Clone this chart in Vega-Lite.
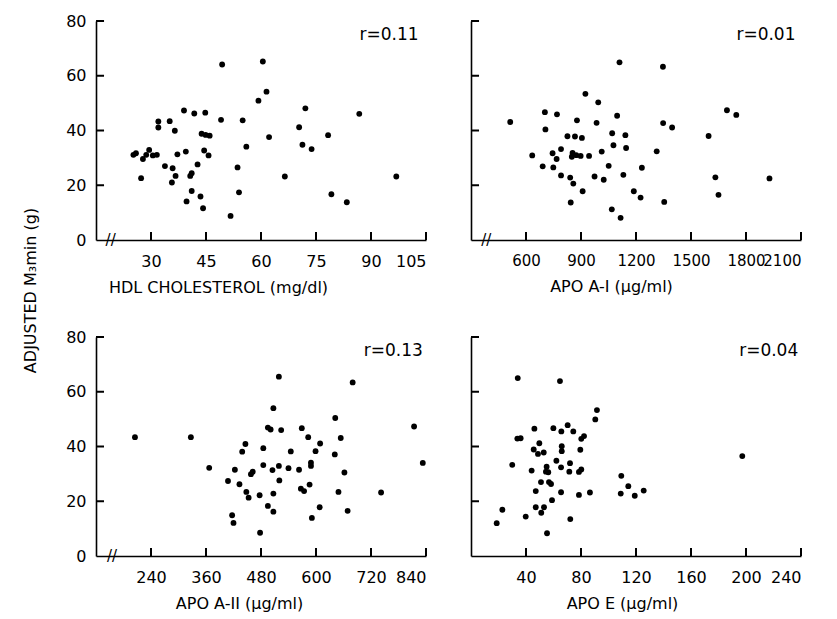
{
  "$schema": "https://vega.github.io/schema/vega-lite/v6.json",
  "padding": {"left": 22, "top": 13, "right": 5, "bottom": 5},
  "background": "white",
  "bounds": "flush",
  "spacing": {"row": 97, "column": 45},
  "columns": 2,
  "config": {
    "view": {"stroke": null},
    "font": "DejaVu Sans",
    "axis": {
      "grid": false,
      "domainColor": "black", "domainWidth": 1.6,
      "ticks": false, "tickSize": 0,
      "labelFont": "DejaVu Sans", "labelFontSize": 16, "labelColor": "black", "labelOverlap": false,
      "titleFont": "DejaVu Sans", "titleFontSize": 16, "titleFontWeight": "normal", "titleColor": "black",
      "format": "d"
    },
    "axisX": {"labelPadding": 13},
    "axisY": {"labelPadding": 10},
    "point": {"filled": true, "color": "black", "size": 34, "opacity": 1},
    "tick": {"color": "black", "opacity": 1, "thickness": 2}
  },
  "datasets": {
    "one": [{}],
    "yt": [{"t":20},{"t":40},{"t":60},{"t":80}],
    "hdl_xt": [{"t":30},{"t":45},{"t":60},{"t":75},{"t":90},{"t":105}],
    "a1_xt": [{"t":600},{"t":900},{"t":1200},{"t":1500},{"t":1800},{"t":2100}],
    "a2_xt": [{"t":240},{"t":360},{"t":480},{"t":600},{"t":720},{"t":840}],
    "e_xt": [{"t":40},{"t":80},{"t":120},{"t":160},{"t":200},{"t":240}],
    "hdl": [
      {"v":49.4,"m":64.1},{"v":60.5,"m":65.2},{"v":61.5,"m":54.2},{"v":59.3,"m":50.9},{"v":39.0,"m":47.3},
      {"v":41.8,"m":46.2},{"v":44.8,"m":46.5},{"v":72.1,"m":48.1},{"v":86.8,"m":46.1},{"v":49.1,"m":43.9},
      {"v":55.0,"m":43.7},{"v":32.0,"m":43.3},{"v":32.0,"m":41.1},{"v":35.1,"m":43.4},{"v":36.5,"m":39.9},
      {"v":70.4,"m":41.2},{"v":78.3,"m":38.3},{"v":43.8,"m":38.8},{"v":44.9,"m":38.4},{"v":46.0,"m":38.1},
      {"v":62.2,"m":37.6},{"v":56.0,"m":34.1},{"v":71.3,"m":34.8},{"v":73.8,"m":33.2},{"v":25.2,"m":31.1},
      {"v":25.9,"m":31.7},{"v":27.8,"m":29.6},{"v":28.7,"m":31.1},{"v":29.5,"m":32.9},{"v":30.5,"m":30.9},
      {"v":31.6,"m":31.1},{"v":37.2,"m":31.3},{"v":39.5,"m":32.3},{"v":44.5,"m":32.7},{"v":45.7,"m":30.9},
      {"v":27.3,"m":22.6},{"v":33.8,"m":27.0},{"v":35.9,"m":26.2},{"v":36.7,"m":23.4},{"v":35.7,"m":21.0},
      {"v":42.7,"m":27.6},{"v":41.1,"m":24.4},{"v":40.7,"m":23.4},{"v":53.6,"m":26.5},{"v":66.5,"m":23.2},
      {"v":96.9,"m":23.2},{"v":41.1,"m":17.9},{"v":43.5,"m":15.9},{"v":54.0,"m":17.4},{"v":79.2,"m":16.7},
      {"v":39.7,"m":14.1},{"v":44.2,"m":11.6},{"v":83.4,"m":13.8},{"v":51.7,"m":8.8}
    ],
    "apoa1": [
      {"v":1110,"m":64.9},{"v":1347,"m":63.3},{"v":924,"m":53.4},{"v":994,"m":50.3},{"v":514,"m":43.1},
      {"v":703,"m":46.7},{"v":769,"m":45.9},{"v":1696,"m":47.4},{"v":1747,"m":45.7},{"v":878,"m":43.7},
      {"v":1097,"m":45.4},{"v":985,"m":42.8},{"v":1348,"m":42.7},{"v":1397,"m":41.1},{"v":706,"m":40.4},
      {"v":826,"m":37.9},{"v":867,"m":37.8},{"v":905,"m":37.3},{"v":1070,"m":39.0},{"v":1142,"m":38.3},
      {"v":1596,"m":38.0},{"v":1077,"m":34.6},{"v":1146,"m":33.6},{"v":791,"m":33.2},{"v":634,"m":30.9},
      {"v":745,"m":31.7},{"v":767,"m":29.6},{"v":854,"m":31.8},{"v":850,"m":30.4},{"v":874,"m":31.0},
      {"v":898,"m":30.7},{"v":944,"m":30.7},{"v":1013,"m":32.3},{"v":1313,"m":32.4},{"v":691,"m":26.9},
      {"v":749,"m":26.5},{"v":1051,"m":27.1},{"v":1232,"m":26.4},{"v":791,"m":23.6},{"v":841,"m":22.8},
      {"v":858,"m":20.6},{"v":974,"m":23.2},{"v":1024,"m":22.0},{"v":1131,"m":23.8},{"v":1633,"m":22.9},
      {"v":1928,"m":22.5},{"v":909,"m":17.8},{"v":1188,"m":17.8},{"v":1225,"m":15.5},{"v":1650,"m":16.5},
      {"v":844,"m":13.7},{"v":1354,"m":13.9},{"v":1068,"m":11.2},{"v":1116,"m":8.1}
    ],
    "apoa2": [
      {"v":519,"m":65.5},{"v":680,"m":63.4},{"v":507,"m":54.0},{"v":642,"m":50.4},{"v":205,"m":43.4},
      {"v":327,"m":43.4},{"v":814,"m":47.3},{"v":495,"m":46.9},{"v":501,"m":46.2},{"v":524,"m":46.0},
      {"v":569,"m":46.7},{"v":583,"m":43.4},{"v":609,"m":41.1},{"v":654,"m":43.1},{"v":446,"m":40.9},
      {"v":439,"m":38.1},{"v":485,"m":39.4},{"v":545,"m":38.2},{"v":599,"m":38.3},{"v":641,"m":37.1},
      {"v":833,"m":34.0},{"v":367,"m":32.2},{"v":423,"m":31.5},{"v":458,"m":29.9},{"v":462,"m":30.8},
      {"v":485,"m":33.2},{"v":505,"m":31.4},{"v":519,"m":32.9},{"v":540,"m":32.1},{"v":563,"m":31.5},
      {"v":589,"m":34.1},{"v":589,"m":32.9},{"v":662,"m":30.5},{"v":408,"m":27.4},{"v":433,"m":26.2},
      {"v":520,"m":27.6},{"v":586,"m":26.1},{"v":567,"m":24.6},{"v":574,"m":23.7},{"v":448,"m":23.4},
      {"v":453,"m":21.3},{"v":477,"m":22.2},{"v":507,"m":22.8},{"v":649,"m":23.4},{"v":742,"m":23.2},
      {"v":495,"m":18.3},{"v":507,"m":16.2},{"v":608,"m":17.8},{"v":669,"m":16.5},{"v":591,"m":13.9},
      {"v":417,"m":14.9},{"v":420,"m":12.1},{"v":478,"m":8.5}
    ],
    "apoe": [
      {"v":34.0,"m":65.0},{"v":64.7,"m":63.9},{"v":91.6,"m":53.3},{"v":90.4,"m":49.9},{"v":46.1,"m":46.5},
      {"v":59.9,"m":46.7},{"v":65.7,"m":45.5},{"v":70.3,"m":47.8},{"v":74.4,"m":45.5},{"v":33.7,"m":42.9},
      {"v":36.1,"m":43.0},{"v":80.2,"m":42.8},{"v":82.2,"m":43.8},{"v":49.7,"m":41.2},{"v":45.6,"m":38.9},
      {"v":48.7,"m":37.3},{"v":52.9,"m":37.8},{"v":66.0,"m":40.1},{"v":66.0,"m":38.3},{"v":79.5,"m":38.8},
      {"v":30.0,"m":33.3},{"v":44.1,"m":31.2},{"v":55.0,"m":32.6},{"v":62.1,"m":34.8},{"v":65.5,"m":32.4},
      {"v":72.0,"m":33.9},{"v":54.5,"m":30.8},{"v":56.2,"m":30.6},{"v":71.5,"m":30.8},{"v":78.5,"m":30.7},
      {"v":80.2,"m":31.6},{"v":50.9,"m":27.0},{"v":56.7,"m":27.0},{"v":58.2,"m":26.3},{"v":109.3,"m":29.3},
      {"v":114.4,"m":25.5},{"v":47.1,"m":23.7},{"v":65.5,"m":23.3},{"v":78.5,"m":22.3},{"v":86.5,"m":23.2},
      {"v":108.9,"m":22.8},{"v":119.1,"m":22.0},{"v":125.6,"m":23.9},{"v":58.9,"m":20.4},{"v":47.1,"m":17.8},
      {"v":53.1,"m":17.8},{"v":51.1,"m":15.8},{"v":22.8,"m":16.9},{"v":39.8,"m":14.4},{"v":72.2,"m":13.5},
      {"v":18.7,"m":12.0},{"v":55.3,"m":8.3},{"v":197.3,"m":36.5}
    ]
  },
  "concat": [
    {
      "width": 330, "height": 219,
      "resolve": {"axis": {"x": "independent", "y": "independent"}},
      "layer": [
        {
          "data": {"name": "hdl"},
          "mark": "point",
          "encoding": {
            "x": {"field": "v", "type": "quantitative", "scale": {"domain": [15, 105], "nice": false, "zero": false},
                  "axis": {"values": [30, 45, 60, 75, 90, 105], "title": "HDL CHOLESTEROL (mg/dl)", "titlePadding": 10, "titleX": 122}},
            "y": {"field": "m", "type": "quantitative", "scale": {"domain": [0, 80], "nice": false},
                  "axis": {"values": [0, 20, 40, 60, 80], "title": "ADJUSTED M₃min (g)", "titleX": -66, "titleY": 269, "titleAngle": -90, "titleBaseline": "middle", "titleAlign": "center"}}
          }
        },
        {"data": {"name": "hdl_xt"}, "mark": {"type": "tick", "orient": "vertical", "size": 8},
         "encoding": {"x": {"field": "t", "type": "quantitative", "axis": null}, "y": {"datum": 1.45, "type": "quantitative", "axis": null}}},
        {"data": {"name": "yt"}, "mark": {"type": "tick", "orient": "horizontal", "size": 8},
         "encoding": {"y": {"field": "t", "type": "quantitative", "axis": null}, "x": {"datum": 16.1, "type": "quantitative", "axis": null}}},
        {"data": {"name": "one"},
         "mark": {"type": "text", "text": "r=0.11", "align": "right", "baseline": "middle", "fontSize": 17, "font": "DejaVu Sans", "color": "black"},
         "encoding": {"x": {"datum": 103, "type": "quantitative", "axis": null}, "y": {"datum": 75, "type": "quantitative", "axis": null}}},
        {"data": {"name": "one"},
         "mark": {"type": "text", "text": "//", "align": "center", "baseline": "middle", "fontSize": 15, "font": "DejaVu Sans", "color": "black"},
         "encoding": {"x": {"datum": 19, "type": "quantitative", "axis": null}, "y": {"datum": 0, "type": "quantitative", "axis": null}}}
      ]
    },
    {
      "width": 330, "height": 219,
      "resolve": {"axis": {"x": "independent", "y": "independent"}},
      "layer": [
        {
          "data": {"name": "apoa1"},
          "mark": "point",
          "encoding": {
            "x": {"field": "v", "type": "quantitative", "scale": {"domain": [300, 2100], "nice": false, "zero": false},
                  "axis": {"values": [600, 900, 1200, 1500, 1800, 2100], "labelFontSize": 15, "title": "APO A-I (µg/ml)", "titlePadding": 10, "titleX": 140}},
            "y": {"field": "m", "type": "quantitative", "scale": {"domain": [0, 80], "nice": false},
                  "axis": {"values": [0, 20, 40, 60, 80], "labels": false, "title": null}}
          }
        },
        {"data": {"name": "a1_xt"}, "mark": {"type": "tick", "orient": "vertical", "size": 8},
         "encoding": {"x": {"field": "t", "type": "quantitative", "axis": null}, "y": {"datum": 1.45, "type": "quantitative", "axis": null}}},
        {"data": {"name": "yt"}, "mark": {"type": "tick", "orient": "horizontal", "size": 8},
         "encoding": {"y": {"field": "t", "type": "quantitative", "axis": null}, "x": {"datum": 322, "type": "quantitative", "axis": null}}},
        {"data": {"name": "one"},
         "mark": {"type": "text", "text": "r=0.01", "align": "right", "baseline": "middle", "fontSize": 17, "font": "DejaVu Sans", "color": "black"},
         "encoding": {"x": {"datum": 2070, "type": "quantitative", "axis": null}, "y": {"datum": 75, "type": "quantitative", "axis": null}}},
        {"data": {"name": "one"},
         "mark": {"type": "text", "text": "//", "align": "center", "baseline": "middle", "fontSize": 15, "font": "DejaVu Sans", "color": "black"},
         "encoding": {"x": {"datum": 383, "type": "quantitative", "axis": null}, "y": {"datum": 0, "type": "quantitative", "axis": null}}}
      ]
    },
    {
      "width": 330, "height": 219,
      "resolve": {"axis": {"x": "independent", "y": "independent"}},
      "layer": [
        {
          "data": {"name": "apoa2"},
          "mark": "point",
          "encoding": {
            "x": {"field": "v", "type": "quantitative", "scale": {"domain": [120, 840], "nice": false, "zero": false},
                  "axis": {"values": [240, 360, 480, 600, 720, 840], "title": "APO A-II (µg/ml)", "titlePadding": 10, "titleX": 143}},
            "y": {"field": "m", "type": "quantitative", "scale": {"domain": [0, 80], "nice": false},
                  "axis": {"values": [0, 20, 40, 60, 80], "title": null}}
          }
        },
        {"data": {"name": "a2_xt"}, "mark": {"type": "tick", "orient": "vertical", "size": 8},
         "encoding": {"x": {"field": "t", "type": "quantitative", "axis": null}, "y": {"datum": 1.45, "type": "quantitative", "axis": null}}},
        {"data": {"name": "yt"}, "mark": {"type": "tick", "orient": "horizontal", "size": 8},
         "encoding": {"y": {"field": "t", "type": "quantitative", "axis": null}, "x": {"datum": 128.7, "type": "quantitative", "axis": null}}},
        {"data": {"name": "one"},
         "mark": {"type": "text", "text": "r=0.13", "align": "right", "baseline": "middle", "fontSize": 17, "font": "DejaVu Sans", "color": "black"},
         "encoding": {"x": {"datum": 833, "type": "quantitative", "axis": null}, "y": {"datum": 75, "type": "quantitative", "axis": null}}},
        {"data": {"name": "one"},
         "mark": {"type": "text", "text": "//", "align": "center", "baseline": "middle", "fontSize": 15, "font": "DejaVu Sans", "color": "black"},
         "encoding": {"x": {"datum": 155, "type": "quantitative", "axis": null}, "y": {"datum": 0, "type": "quantitative", "axis": null}}}
      ]
    },
    {
      "width": 330, "height": 219,
      "resolve": {"axis": {"x": "independent", "y": "independent"}},
      "layer": [
        {
          "data": {"name": "apoe"},
          "mark": "point",
          "encoding": {
            "x": {"field": "v", "type": "quantitative", "scale": {"domain": [0, 240], "nice": false},
                  "axis": {"values": [40, 80, 120, 160, 200, 240], "title": "APO E (µg/ml)", "titlePadding": 10, "titleX": 151}},
            "y": {"field": "m", "type": "quantitative", "scale": {"domain": [0, 80], "nice": false},
                  "axis": {"values": [0, 20, 40, 60, 80], "labels": false, "title": null}}
          }
        },
        {"data": {"name": "e_xt"}, "mark": {"type": "tick", "orient": "vertical", "size": 8},
         "encoding": {"x": {"field": "t", "type": "quantitative", "axis": null}, "y": {"datum": 1.45, "type": "quantitative", "axis": null}}},
        {"data": {"name": "yt"}, "mark": {"type": "tick", "orient": "horizontal", "size": 8},
         "encoding": {"y": {"field": "t", "type": "quantitative", "axis": null}, "x": {"datum": 2.9, "type": "quantitative", "axis": null}}},
        {"data": {"name": "one"},
         "mark": {"type": "text", "text": "r=0.04", "align": "right", "baseline": "middle", "fontSize": 17, "font": "DejaVu Sans", "color": "black"},
         "encoding": {"x": {"datum": 238, "type": "quantitative", "axis": null}, "y": {"datum": 75, "type": "quantitative", "axis": null}}}
      ]
    }
  ]
}
